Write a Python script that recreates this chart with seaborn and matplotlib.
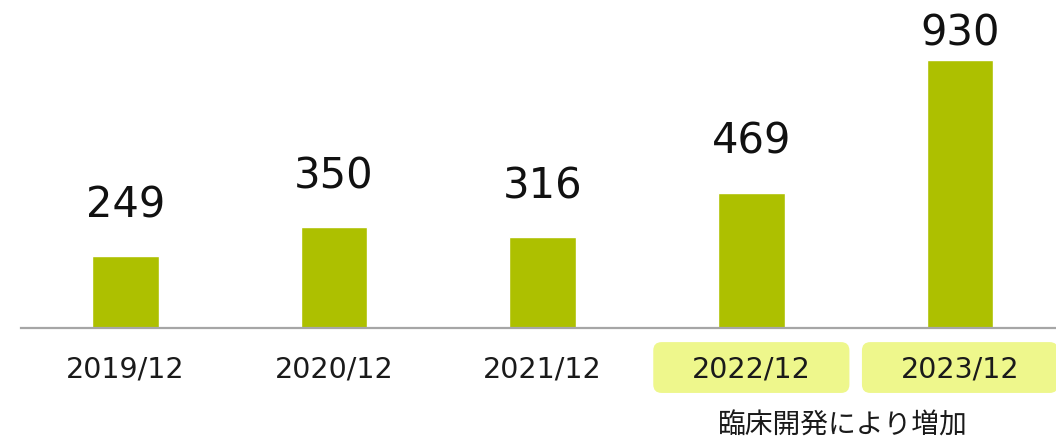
import seaborn as sns
import matplotlib.pyplot as plt
import matplotlib.transforms as mtransforms
from matplotlib.patches import FancyBboxPatch
import pandas as pd

# 値（億円）
periods = ['2019/12', '2020/12', '2021/12', '2022/12', '2023/12']
values = [249, 350, 316, 469, 930]
highlight = ['2022/12', '2023/12']
note = '臨床開発により増加'

bar_color = '#adc000'
box_color = '#eef78c'

df = pd.DataFrame({'period': periods, 'value': values})

sns.set_style('white')
plt.rcParams['font.family'] = ['DejaVu Sans', 'Noto Sans CJK JP']

fig = plt.figure(figsize=(10.56, 4.44), dpi=100)
ax = fig.add_axes([21 / 1056, 116 / 444, 1 - 21 / 1056, 328 / 444])

sns.barplot(data=df, x='period', y='value', color=bar_color,
            width=0.32, saturation=1, errorbar=None, ax=ax)

ax.set_xlim(-0.5, 4.46)
ax.set_ylim(0, 1138)
ax.set_xlabel('')
ax.set_ylabel('')
ax.set_yticks([])
for side in ['top', 'right', 'left']:
    ax.spines[side].set_visible(False)
ax.spines['bottom'].set_color('#a6a6a6')
ax.spines['bottom'].set_linewidth(1.6)
ax.tick_params(axis='x', length=0, pad=20, labelsize=20.5, labelcolor='#1a1a1a')

# 値ラベル（上端は図の枠内に収める）
for i, v in enumerate(values):
    ax.text(i, min(v + 135, 979), str(v), ha='center', va='baseline',
            fontsize=30, color='#111111')

# 強調する期の角丸ボックス
trans = mtransforms.blended_transform_factory(ax.transData, ax.transAxes)
for i, p in enumerate(periods):
    if p in highlight:
        box = FancyBboxPatch((i - 0.47, -0.198), 0.94, 0.155,
                             boxstyle='round,pad=0,rounding_size=0.04',
                             mutation_aspect=0.64, transform=trans,
                             fc=box_color, ec='none', clip_on=False, zorder=0)
        ax.add_patch(box)

ax.text(3.44, -0.298, note, transform=trans, ha='center', va='center',
        fontsize=20, color='#1a1a1a', family=['Noto Sans CJK JP', 'DejaVu Sans'])

fig.savefig('out.png', dpi=100)
